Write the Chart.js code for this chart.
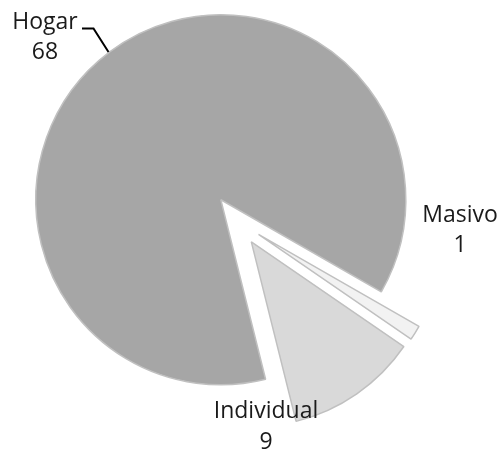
<!DOCTYPE html>
<html>
<head>
<meta charset="utf-8">
<script src="https://cdn.jsdelivr.net/npm/chart.js@4.4.0/dist/chart.umd.min.js"></script>
<style>
  html, body { margin: 0; padding: 0; background: #ffffff; }
  #c { display: block; }
</style>
</head>
<body>
<canvas id="c" width="501" height="450"></canvas>
<script>
// ---- data ----
const categories = ['Hogar', 'Masivo', 'Individual'];
const values = [68, 1, 9];
const colors = ['#a6a6a6', '#f2f2f2', '#d9d9d9'];

// ---- style / layout constants ----
const EXPLODE = 26;          // px each slice is pulled out from the centre
const FONT = '23px "Open Sans"';
const labelPos = [           // centre x, baseline of first line, line gap
  { x: 45, y: 29, gap: 30 },
  { x: 460, y: 222, gap: 30 },
  { x: 266, y: 418, gap: 31 }
];

const explodePlugin = {
  id: 'explode',
  beforeDatasetsDraw(chart) {
    const area = chart.chartArea;
    const cx = (area.left + area.right) / 2;
    const cy = (area.top + area.bottom) / 2;
    chart.getDatasetMeta(0).data.forEach(arc => {
      const mid = (arc.startAngle + arc.endAngle) / 2;
      arc.x = cx + EXPLODE * Math.cos(mid);
      arc.y = cy + EXPLODE * Math.sin(mid);
    });
  }
};

const labelPlugin = {
  id: 'labels',
  afterDatasetsDraw(chart) {
    const ctx = chart.ctx;
    ctx.save();
    ctx.font = FONT;
    ctx.fillStyle = '#1a1a1a';
    ctx.textAlign = 'center';
    ctx.textBaseline = 'alphabetic';
    categories.forEach((name, i) => {
      const p = labelPos[i];
      ctx.fillText(name, p.x, p.y);
      ctx.fillText(String(values[i]), p.x, p.y + p.gap);
    });
    // leader line for Hogar
    ctx.strokeStyle = '#000000';
    ctx.lineWidth = 2;
    ctx.beginPath();
    ctx.moveTo(82, 28.5);
    ctx.lineTo(93.5, 28.5);
    ctx.lineTo(108.5, 52);
    ctx.stroke();
    ctx.restore();
  }
};

new Chart(document.getElementById('c'), {
  type: 'pie',
  data: {
    labels: categories,
    datasets: [{
      data: values,
      backgroundColor: colors,
      borderColor: '#c0c0c0',
      borderWidth: 1.5,
      clip: false
    }]
  },
  options: {
    responsive: false,
    animation: false,
    rotation: 166,
    radius: 185,
    layout: { padding: { left: 0, right: 28, top: 0, bottom: 9 } },
    plugins: {
      legend: { display: false },
      tooltip: { enabled: false }
    }
  },
  plugins: [explodePlugin, labelPlugin]
});
</script>
</body>
</html>
